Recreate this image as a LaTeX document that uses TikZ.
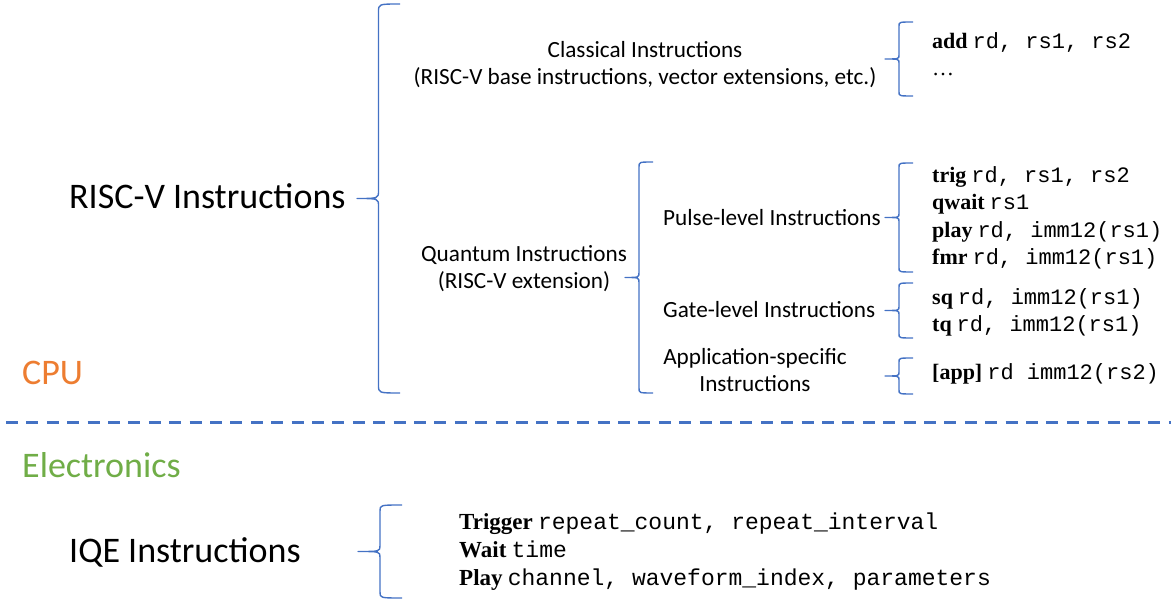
\documentclass[tikz,border=0pt]{standalone}
\usepackage{fontspec}
\setmainfont{Carlito}
\newfontfamily\kwfont{Liberation Serif}
\newfontfamily\codefont{Liberation Mono}
\definecolor{brblue}{HTML}{4472C4}
\definecolor{cpuorange}{HTML}{ED7D31}
\definecolor{elgreen}{HTML}{70AD47}
\newcommand\kw[1]{{\kwfont\bfseries #1}}
\newcommand\code[1]{{\codefont #1}}
% curly brace: x of the ends, top, bottom, half width, curl
\newcommand\cbrace[5]{%
  \pgfmathsetmacro\bmid{(#2+#3)/2}%
  \draw[brace line] (#1,#2) .. controls (#1-#4,#2) .. (#1-#4,#2+#5)
    -- (#1-#4,\bmid-#5) .. controls (#1-#4,\bmid) .. (#1-2*#4,\bmid)
    .. controls (#1-#4,\bmid) .. (#1-#4,\bmid+#5)
    -- (#1-#4,#3-#5) .. controls (#1-#4,#3) .. (#1,#3);}

\begin{document}
\begin{tikzpicture}[x=1pt,y=-1pt,
    every node/.style={inner sep=0pt},
    big label/.style={font=\fontsize{36}{42}\selectfont,anchor=base west},
    group label/.style={font=\fontsize{23.2}{27}\selectfont,align=center,anchor=base},
    instr list/.style={font=\fontsize{22}{27.5}\selectfont,align=left,anchor=base west},
    brace line/.style={brblue,line width=1.4pt,line join=round}]
  \useasboundingbox (0,0) rectangle (1171,601);

  \node[big label] (riscv) at (69,209) {RISC-V Instructions};
  \node[big label,cpuorange] (cpu) at (22,385) {CPU};
  \node[big label,elgreen] (elec) at (22,478) {Electronics};
  \node[big label] (iqe) at (69,562) {IQE Instructions};

  % multi-line nodes sit on the baseline of their last line
  \node[group label] (classical) at (645,85) {Classical Instructions\\(RISC-V base instructions, vector extensions, etc.)};
  \node[group label] (quantum) at (524,289) {Quantum Instructions\\(RISC-V extension)};
  \node[group label,anchor=base west] (pulse) at (663,226) {Pulse-level Instructions};
  \node[group label,anchor=base west] (gate) at (663,318) {Gate-level Instructions};
  \node[group label] (appspec) at (755,392) {Application-specific\\Instructions};

  \node[instr list] (addlist) at (932,76) {\kw{add} \code{rd, rs1, rs2}\\{\kwfont …}};
  \node[instr list] (pulselist) at (932,265) {\kw{trig} \code{rd, rs1, rs2}\\\kw{qwait} \code{rs1}\\\kw{play} \code{rd, imm12(rs1)}\\\kw{fmr} \code{rd, imm12(rs1)}};
  \node[instr list] (gatelist) at (932,332) {\kw{sq} \code{rd, imm12(rs1)}\\\kw{tq} \code{rd, imm12(rs1)}};
  \node[instr list] (applist) at (932,380) {\kw{[app]} \code{rd imm12(rs2)}};
  \node[instr list,font=\fontsize{23}{27.5}\selectfont] (iqelist) at (459,585) {\kw{Trigger} \code{repeat\_count, repeat\_interval}\\\kw{Wait} \code{time}\\\kw{Play} \code{channel, waveform\_index, parameters}};

  \cbrace{400}{4}{393}{21.5}{8}
  \cbrace{913}{22}{96}{14}{4}
  \cbrace{653}{162}{393}{14}{5}
  \cbrace{913}{163}{272}{14}{4}
  \cbrace{913}{283}{338}{14}{4}
  \cbrace{913}{358}{394}{14}{4}
  \cbrace{402}{505}{598}{22}{6}

  \draw[brblue,line width=3pt,dash pattern=on 12pt off 8.4pt] (6,422.5) -- (1171,422.5);
\end{tikzpicture}
\end{document}
